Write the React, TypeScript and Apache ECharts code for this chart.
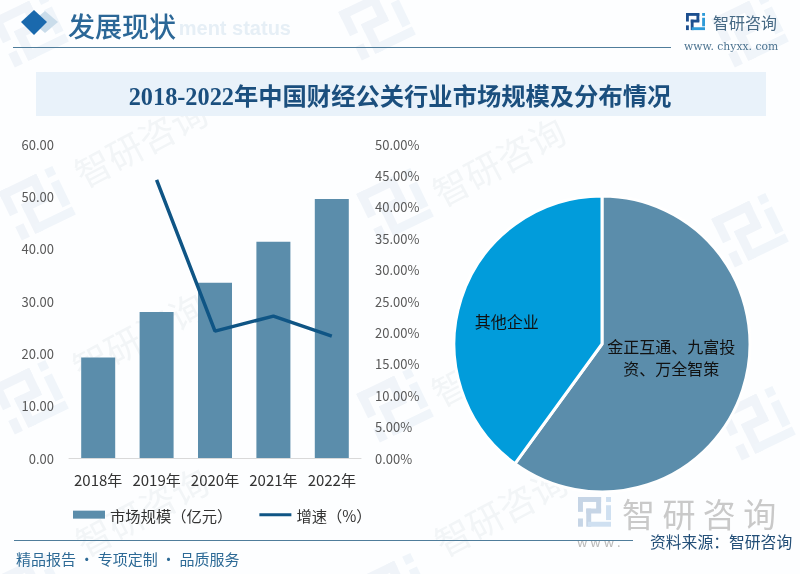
import React, { useEffect, useRef } from "react";
import * as echarts from "echarts";

const categories = ["2018年", "2019年", "2020年", "2021年", "2022年"];
const marketSize = [19.2, 27.9, 33.5, 41.3, 49.5];
const growth = [null, 44.3, 20.2, 22.6, 19.4];
const shareNames = ["金正互通、九富投\n资、万全智策", "其他企业"];
const shareValues = [60, 40];
const watermarks = [
  [140, 141], [138, 335], [141, 510], [498, 160], [497, 360], [500, 510],
];
const logoMarks = [
  [37, 203], [30, 397], [30, 30], [377, 23], [395, 205], [395, 405], [750, 230], [757, 423], [750, 30], [395, 590], [30, 590],
];

const FONT = '"Noto Sans CJK SC", "Noto Sans", sans-serif';
const LINE_ICON = "path://M0 0L32 0L32 0Z M0 2.5L32 2.5L32 5.5L0 5.5Z M0 8L32 8L32 8Z";

function logo(x: number, y: number, s: number, c1: string, c2: string, z = 1, rotation = 0) {
  const r = (a: number, b: number, w: number, h: number, fill: string) => ({
    type: "rect", shape: { x: a * s, y: b * s, width: w * s, height: h * s }, style: { fill },
  });
  return {
    type: "group", x, y, z, silent: true, rotation,
    children: [
      r(0, 0, 14, 3, c1), r(11, 0, 3, 9, c1), r(0, 0, 3, 9, c1), r(5, 7, 9, 3, c1), r(5, 7, 3, 11, c1),
      r(0, 13, 3, 5, c1), r(17, 0, 3, 3, c2), r(17, 5, 3, 9, c2), r(6, 15, 14, 3, c2),
    ],
  };
}

export default function App() {
  const ref = useRef<HTMLDivElement>(null);
  useEffect(() => {
    document.body.style.margin = "0";
    const chart = echarts.init(ref.current!, null, { renderer: "svg" });
    const text = (x: number, y: number, t: string, size: number, fill: string, extra: any = {}, z = 5) => ({
      type: "text", x, y, z, silent: true,
      style: { text: t, fontSize: size, fill, fontFamily: FONT, verticalAlign: "middle", ...extra },
    });
    const graphic: any[] = [
      { type: "rect", z: -20, silent: true, shape: { x: 0, y: 0, width: 800, height: 574 }, style: { fill: "#fdfeff" } },
      ...logoMarks.map(([x, y]) => logo(x - 38.7, y - 11, 3, "#f0f4f9", "#f0f5fa", -10, 0.45)),
      ...watermarks.map(([x, y]) => ({
        type: "text", x, y, z: -9, silent: true, rotation: 0.49,
        style: { text: "智研咨询", fontSize: 36, fill: "#f2f5f7", fontFamily: FONT, align: "center", verticalAlign: "middle" },
      })),
      text(291, 28, "ment status", 20, "#e6eff6", { align: "right", fontWeight: "bold", fontFamily: "Liberation Sans" }, 1),
      { type: "polygon", z: 2, silent: true, shape: { points: [[45, 11], [58, 22], [45, 33], [32, 22]] }, style: { fill: "#c9dcea" } },
      { type: "polygon", z: 3, silent: true, shape: { points: [[34, 10], [47, 22], [34, 35], [21, 22]] }, style: { fill: "#1a69ad" } },
      text(68, 25, "发展现状", 27, "#2b6797", { fontWeight: 500 }),
      { type: "line", z: 2, silent: true, shape: { x1: 13, y1: 47.5, x2: 671, y2: 47.5 }, style: { stroke: "#4f7d9b", lineWidth: 1.2 } },
      logo(686, 13, 0.95, "#1c4f8f", "#2d9ad8", 5),
      text(713, 22, "智研咨询", 16, "#476a85"),
      text(684, 46, "www. chyxx. com", 10.8, "#4c7390", { fontFamily: '"DejaVu Serif"' }),
      { type: "rect", z: 1, silent: true, shape: { x: 36, y: 72, width: 730, height: 44 }, style: { fill: "#e9f2fa" } },
      text(400, 96, "2018-2022年中国财经公关行业市场规模及分布情况", 24.3, "#1b4f7e", { align: "center", fontWeight: "bold", fontFamily: '"Liberation Serif", "Noto Sans CJK SC"' }),
      { type: "line", z: 4, silent: true, shape: { x1: 14, y1: 540.5, x2: 633, y2: 540.5 }, style: { stroke: "#4f7d9b", lineWidth: 1 } },
      text(16, 558, "精品报告 · 专项定制 · 品质服务", 15, "#2d6a96"),
      logo(578, 497, 1.65, "#c6d5e6", "#cfe0f1", 2),
      text(622, 513, "智 研 咨 询", 33, "#c9c9c9", {}, 2),
      text(577, 541, "w w w .", 13, "#b9b9b9", {}, 2),
      text(650, 541, "资料来源：智研咨询", 15.8, "#234f78"),
    ];
    chart.setOption({
      animation: false,
      backgroundColor: "transparent",
      textStyle: { fontFamily: FONT },
      graphic,
      legend: {
        left: 68, top: 502, itemWidth: 32, itemHeight: 8, itemGap: 27,
        textStyle: { fontSize: 15.3, color: "#333", fontFamily: FONT },
        data: [{ name: "市场规模（亿元）", icon: "rect" }, { name: "增速（%）", icon: LINE_ICON }],
      },
      grid: { left: 69, right: 439, top: 144, bottom: 116 },
      xAxis: {
        type: "category", data: categories,
        axisLine: { lineStyle: { color: "#d9d9d9" } }, axisTick: { show: false },
        axisLabel: { fontSize: 15, color: "#333", margin: 14, interval: 0, fontFamily: FONT },
      },
      yAxis: [
        { type: "value", min: 0, max: 60, interval: 10, splitLine: { show: false }, axisLine: { show: false }, axisTick: { show: false },
          axisLabel: { fontSize: 13, color: "#595959", margin: 15, formatter: (v: number) => v.toFixed(2) } },
        { type: "value", min: 0, max: 50, interval: 5, position: "right", splitLine: { show: false }, axisLine: { show: false }, axisTick: { show: false },
          axisLabel: { fontSize: 13, color: "#595959", margin: 14, formatter: (v: number) => v.toFixed(2) + "%" } },
      ],
      series: [
        { name: "市场规模（亿元）", type: "bar", data: marketSize, barWidth: 34, itemStyle: { color: "#5b8dab" } },
        { name: "增速（%）", type: "line", yAxisIndex: 1, data: growth, showSymbol: false, symbol: "none",
          lineStyle: { color: "#0f5585", width: 3.5 }, itemStyle: { color: "#0f5585" } },
        { name: "分布", type: "pie", center: [602, 344], radius: [0, 148], startAngle: 90, clockwise: true,
          data: shareNames.map((name, i) => ({ name, value: shareValues[i] })),
          color: ["#5b8dab", "#019cdb"],
          itemStyle: { borderColor: "#fff", borderWidth: 3 },
          labelLine: { show: false },
          label: { show: true, position: "inside", fontSize: 16, color: "#111", lineHeight: 22, align: "center", fontFamily: FONT },
          labelLayout: (p: any) => (p.dataIndex === 0 ? { dx: -4, dy: -11 } : { dx: -22, dy: 1 }),
        },
      ],
    });
    return () => chart.dispose();
  }, []);
  return <div ref={ref} style={{ position: "fixed", left: 0, top: 0, width: 800, height: 574 }} />;
}
